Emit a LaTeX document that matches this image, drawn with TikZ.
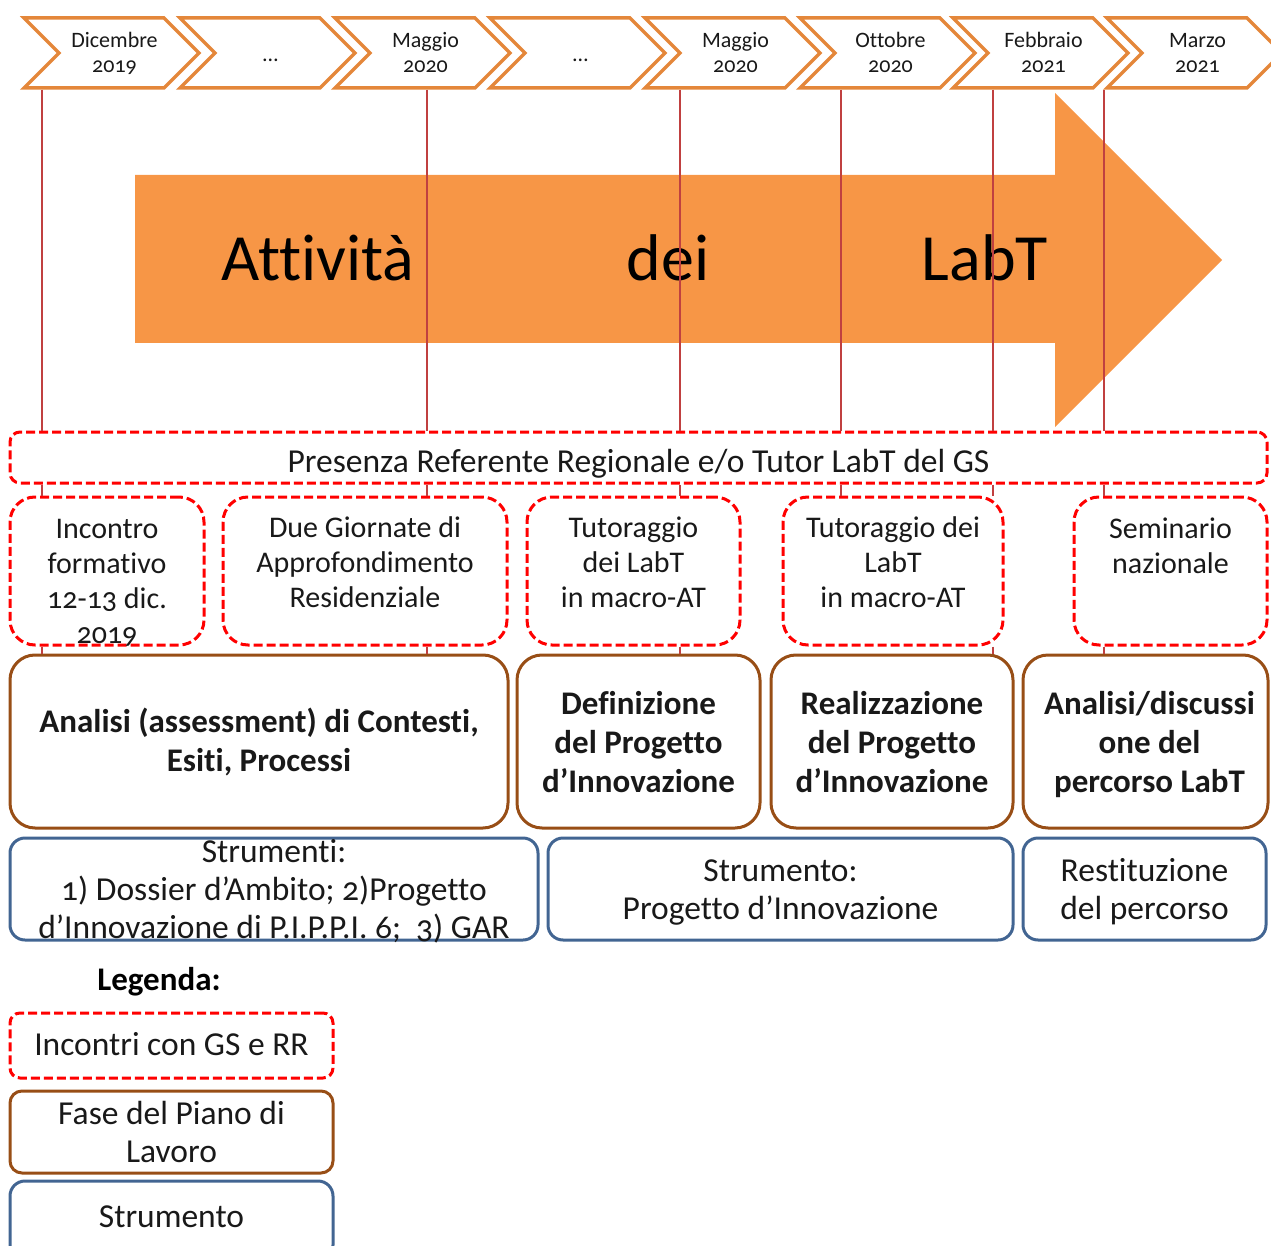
\documentclass[tikz,border=0pt]{standalone}
\usepackage{fontspec}
\setmainfont{Carlito}[Ligatures=NoCommon, Numbers=OldStyle]
\usetikzlibrary{shapes.symbols}
\definecolor{chev}{RGB}{228,135,58}
\definecolor{arrfill}{RGB}{247,150,70}
\definecolor{vline}{RGB}{192,64,64}
\definecolor{rdash}{RGB}{255,0,0}
\definecolor{brownc}{RGB}{152,78,22}
\definecolor{bluec}{RGB}{66,101,146}
\definecolor{txt}{RGB}{25,25,25}
\newcommand{\tbx}[2][0]{\raisebox{#1pt}[0pt][0pt]{\begin{tabular}{@{}c@{}}#2\end{tabular}}}
\begin{document}
\begin{tikzpicture}[x=1pt,y=-1pt,
  chevron/.style={signal, signal to=east, signal from=west, signal pointer angle=90,
    draw=chev, line width=3.5pt, minimum width=175pt, minimum height=70pt, inner sep=0pt,
    text=txt, font=\fontsize{22}{25}\selectfont},
  rline/.style={draw=vline, line width=1.5pt},
  meet/.style={draw=rdash, dash pattern=on 9pt off 4pt, line width=3pt, rounded corners=25pt,
    inner sep=0pt, text=txt, font=\fontsize{30}{35}\selectfont},
  phase/.style={draw=brownc, line width=3pt, rounded corners=25pt, inner sep=0pt,
    text=txt, font=\fontsize{33}{39}\selectfont\bfseries},
  tool/.style={draw=bluec, line width=3pt, rounded corners=15pt, inner sep=0pt,
    text=txt, font=\fontsize{33.5}{38}\selectfont},
  bigword/.style={anchor=base, text=black, font=\fontsize{66}{70}\selectfont},
]
\useasboundingbox (0,0) rectangle (1271,1246);
% timeline chevrons
\node[chevron] (c1) at (111.5,53) {\tbx[-7]{\kern6pt Dicembre\\\kern6pt 2019}};
\node[chevron] (c2) at (267.5,53) {\tbx[-9]{\kern6pt …}};
\node[chevron] (c3) at (422.5,53) {\tbx[-7]{\kern6pt Maggio\\\kern6pt 2020}};
\node[chevron] (c4) at (577.5,53) {\tbx[-9]{\kern6pt …}};
\node[chevron] (c5) at (732.5,53) {\tbx[-7]{\kern6pt Maggio\\\kern6pt 2020}};
\node[chevron] (c6) at (887.5,53) {\tbx[-7]{\kern6pt Ottobre\\\kern6pt 2020}};
\node[chevron] (c7) at (1040.5,53) {\tbx[-7]{\kern6pt Febbraio\\\kern6pt 2021}};
\node[chevron] (c8) at (1194.5,53) {\tbx[-7]{\kern6pt Marzo\\\kern6pt 2021}};
% big arrow
\fill[arrfill] (135,175) -- (1055,175) -- (1055,93) -- (1222,260) -- (1055,427)
  -- (1055,343) -- (135,343) -- cycle;
\node[bigword] (w1) at (318,281) {Attività};
\node[bigword] (w2) at (668,281) {dei};
\node[bigword] (w3) at (985,281) {LabT};
% presence box
\node[meet, rounded corners=10pt, minimum width=1257pt, minimum height=51pt,
  font=\fontsize{33.5}{38}\selectfont] (pres) at (638.5,457.5)
  {\tbx[-14]{Presenza Referente Regionale e/o Tutor LabT del GS}};
% meetings
\node[meet, minimum width=194pt, minimum height=148pt] (m1) at (107,571)
  {\tbx[-19]{Incontro\\formativo\\12-13 dic.\\2019}};
\node[meet, minimum width=284pt, minimum height=148pt] (m2) at (365,571)
  {\tbx[-1]{Due Giornate di\\Approfondimento\\Residenziale}};
\node[meet, minimum width=213pt, minimum height=148pt] (m3) at (633.5,571)
  {\tbx[-1]{Tutoraggio\\dei LabT\\in macro-AT}};
\node[meet, minimum width=220pt, minimum height=148pt] (m4) at (893,571)
  {\tbx[-1]{Tutoraggio dei\\LabT\\in macro-AT}};
\node[meet, minimum width=193pt, minimum height=148pt] (m5) at (1170.5,571)
  {\tbx[16]{Seminario\\nazionale}};
% phases
\node[phase, minimum width=498pt, minimum height=173pt] (f1) at (259,741.5)
  {\tbx[-9]{Analisi (assessment) di Contesti,\\Esiti, Processi}};
\node[phase, minimum width=243pt, minimum height=173pt] (f2) at (638.5,741.5)
  {\tbx[-10]{Definizione\\del Progetto\\d’Innovazione}};
\node[phase, minimum width=242pt, minimum height=173pt] (f3) at (892,741.5)
  {\tbx[-10]{Realizzazione\\del Progetto\\d’Innovazione}};
\node[phase, minimum width=245pt, minimum height=173pt] (f4) at (1145.5,741.5)
  {\tbx[-10]{\kern8pt Analisi/discussi\\\kern8pt one del\\\kern8pt percorso LabT}};
% tools
\node[tool, minimum width=528pt, minimum height=102pt] (t1) at (274,889)
  {\tbx[-10]{Strumenti:\\1) Dossier d’Ambito; 2)Progetto\\d’Innovazione di P.I.P.P.I. 6;~~3) GAR}};
\node[tool, minimum width=465pt, minimum height=102pt] (t2) at (780.5,889)
  {\tbx[-10]{Strumento:\\Progetto d’Innovazione}};
\node[tool, minimum width=243pt, minimum height=102pt] (t3) at (1144.5,889)
  {\tbx[-10]{Restituzione\\del percorso}};
% legend
\node[anchor=base, text=black, font=\fontsize{33}{38}\selectfont\bfseries] (leg) at (159,990) {Legenda:};
\node[meet, rounded corners=10pt, minimum width=323pt, minimum height=65pt,
  font=\fontsize{33.5}{38}\selectfont] (l1) at (171.5,1045.5) {\tbx[-9]{Incontri con GS e RR}};
\node[phase, rounded corners=12pt, minimum width=323pt, minimum height=82pt,
  font=\fontsize{33.5}{38}\selectfont] (l2) at (171.5,1132) {\tbx[-10]{Fase del Piano di\\Lavoro}};
\node[tool, minimum width=323pt, minimum height=79pt] (l3) at (171.5,1220.5) {\tbx[-6]{Strumento}};
% vertical connectors
\coordinate (p1) at (42,0);
\coordinate (p2) at (427,0);
\coordinate (p3) at (680,0);
\coordinate (p4) at (841,0);
\coordinate (p5) at (993,0);
\coordinate (p6) at (1104,0);
\draw[rline] (c1.south -| p1) -- (pres.north -| p1);
\draw[rline] (c3.south -| p2) -- (pres.north -| p2);
\draw[rline] (c5.south -| p3) -- (pres.north -| p3);
\draw[rline] (c6.south -| p4) -- (pres.north -| p4);
\draw[rline] (c7.south -| p5) -- (pres.north -| p5);
\draw[rline] (c8.south -| p6) -- (pres.north -| p6);
\draw[rline] (pres.south -| p1) -- (m1.north -| p1);
\draw[rline] (pres.south -| p2) -- (m2.north -| p2);
\draw[rline] (pres.south -| p3) -- (m3.north -| p3);
\draw[rline] (pres.south -| p4) -- (m4.north -| p4);
\draw[rline] (pres.south -| p5) -- (m4.north -| p5);
\draw[rline] (pres.south -| p6) -- (m5.north -| p6);
\draw[rline] (m1.south -| p1) -- (f1.north -| p1);
\draw[rline] (m2.south -| p2) -- (f1.north -| p2);
\draw[rline] (m3.south -| p3) -- (f2.north -| p3);
\draw[rline] (m4.south -| p5) -- (f3.north -| p5);
\draw[rline] (m5.south -| p6) -- (f4.north -| p6);
\end{tikzpicture}
\end{document}
